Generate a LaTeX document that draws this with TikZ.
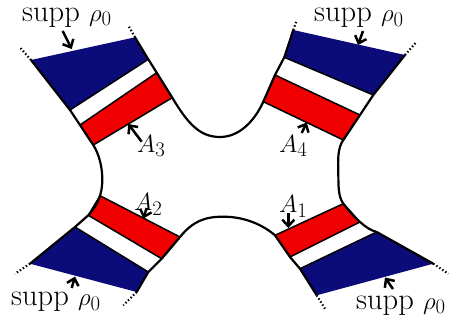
\documentclass[tikz,border=0pt]{standalone}
\usetikzlibrary{arrows.meta}
\definecolor{navy}{RGB}{11,11,122}
\definecolor{stripred}{RGB}{240,0,0}
\begin{document}
\begin{tikzpicture}[x=1pt,y=-1pt,
  edge/.style={line width=2.2pt, line join=round},
  band/.style={line width=1.5pt, line join=round},
  ends/.style={line width=2.2pt, dash pattern=on 1.4pt off 2.2pt},
  lab/.style={font=\fontsize{30.5}{36}\selectfont, inner sep=0pt, anchor=base west},
  pointer/.style={line width=2.5pt, -{Straight Barb[length=6.5pt,width=12pt]}},
]
\useasboundingbox (0,0) rectangle (451,324);
% top-left arm
\coordinate (L0) at (19.3,46.7); \coordinate (L1) at (31,60); \coordinate (L2) at (70,110);
\coordinate (L3) at (80,125); \coordinate (L4) at (93.3,145);
\coordinate (R0) at (128,25); \coordinate (R1) at (135,37.3); \coordinate (R2) at (148.3,59.3);
\coordinate (R3) at (156.7,72.7); \coordinate (R4) at (172.3,97.7);
% top-right arm
\coordinate (P0) at (296.5,21); \coordinate (P1) at (293.3,30); \coordinate (P2) at (284.3,57.3);
\coordinate (P3) at (275,75); \coordinate (P4) at (263.3,101.7);
\coordinate (Q0) at (416.7,41.7); \coordinate (Q1) at (405,55); \coordinate (Q2) at (373.3,95);
\coordinate (Q3) at (360,115); \coordinate (Q4) at (343.3,140);
% bottom-left arm
\coordinate (U0) at (15,273.7); \coordinate (U1) at (30,263.7); \coordinate (U2) at (75,227);
\coordinate (U3) at (88.3,215.3); \coordinate (U4) at (100,195.7);
\coordinate (V0) at (123.3,305.3); \coordinate (V1) at (136.7,292); \coordinate (V2) at (148.3,272);
\coordinate (V3) at (161.7,258.7); \coordinate (V4) at (180,237);
% bottom-right arm
\coordinate (W0) at (325,308.7); \coordinate (W1) at (316.7,295.3); \coordinate (W2) at (300,268.7);
\coordinate (W3) at (290,257); \coordinate (W4) at (275,235.3);
\coordinate (X0) at (448.3,273.7); \coordinate (X1) at (433.3,263.7); \coordinate (X2) at (376.7,232);
\coordinate (X3) at (360,222); \coordinate (X4) at (343.3,203.7);

% fills
\fill[navy] (L1)--(R1)--(R2)--(L2)--cycle;
\fill[navy] (P1)--(Q1)--(Q2)--(P2)--cycle;
\fill[navy] (U1)--(U2)--(V2)--(V1)--cycle;
\fill[navy] (W2)--(X2)--(X1)--(W1)--cycle;
\filldraw[fill=stripred, band] (L3)--(R3)--(R4)--(L4)--cycle;
\filldraw[fill=stripred, band] (P3)--(Q3)--(Q4)--(P4)--cycle;
\filldraw[fill=stripred, band] (U4)--(V4)--(V3)--(U3)--cycle;
\filldraw[fill=stripred, band] (W4)--(X4)--(X3)--(W3)--cycle;
\draw[band] (L2)--(R2);
\draw[band] (P2)--(Q2);
\draw[band] (U2)--(V2);
\draw[band] (W2)--(X2);

% boundaries
\draw[edge] (R1)--(R2)--(R3)--(R4) .. controls (188,124) and (200,137) .. (220,137)
  .. controls (240,137) and (255,120) .. (P4)--(P3)--(P2)--(P1);
\draw[edge] (Q1)--(Q2)--(Q3)--(Q4) .. controls (337.5,148) and (338,160) .. (338.3,172)
  .. controls (338.5,186) and (338,196) .. (X4) .. controls (355,218) and (365,228.8) .. (X2)--(X1);
\draw[edge] (V1)--(V2)--(V3)--(V4) .. controls (193,221) and (205,216.7) .. (223.3,216.7)
  .. controls (245,216.7) and (263,225) .. (W4)--(W3)--(W2)--(W1);
\draw[edge] (L1)--(L2)--(L3)--(L4) .. controls (99.5,155) and (102.5,168) .. (102.3,181)
  .. controls (102,194) and (98,205) .. (U3)--(U2)--(U1);

% dotted continuations
\draw[ends] (L1)--(L0);
\draw[ends] (R1)--(R0);
\draw[ends] (P1)--(P0);
\draw[ends] (Q1)--(Q0);
\draw[ends] (U1)--(U0);
\draw[ends] (V1)--(V0);
\draw[ends] (W1)--(W0);
\draw[ends] (X1)--(X0);

% labels
\node[lab] (s1) at (22,21) {supp $\rho_0$};
\node[lab] (s2) at (314,21.5) {supp $\rho_0$};
\node[lab] (s3) at (11,305.5) {supp $\rho_0$};
\node[lab] (s4) at (356,309) {supp $\rho_0$};
\node[lab] (a3) at (137,152) {$A_3$};
\node[lab] (a4) at (279,152) {$A_4$};
\node[lab] (a2) at (134,210.5) {$A_2$};
\node[lab] (a1) at (279,212.5) {$A_1$};

% arrows
\coordinate (s1a) at (62.7,31);   \coordinate (s1b) at (71.7,49);
\coordinate (s2a) at (363,31);    \coordinate (s2b) at (358,45);
\coordinate (s3a) at (71.7,288);  \coordinate (s3b) at (75,276.5);
\coordinate (s4a) at (393,289);   \coordinate (s4b) at (385,277.5);
\coordinate (a3a) at (141.7,141.7); \coordinate (a3b) at (128.3,124);
\coordinate (a4a) at (301.7,133); \coordinate (a4b) at (306.7,122.5);
\coordinate (a2a) at (146.7,208); \coordinate (a2b) at (143.3,218.5);
\coordinate (a1a) at (288.3,213); \coordinate (a1b) at (288.3,228);
\draw[pointer] (s1a)--(s1b);
\draw[pointer] (s2a)--(s2b);
\draw[pointer] (s3a)--(s3b);
\draw[pointer] (s4a)--(s4b);
\draw[pointer] (a3a)--(a3b);
\draw[pointer] (a4a)--(a4b);
\draw[pointer] (a2a)--(a2b);
\draw[pointer] (a1a)--(a1b);
\end{tikzpicture}
\end{document}
